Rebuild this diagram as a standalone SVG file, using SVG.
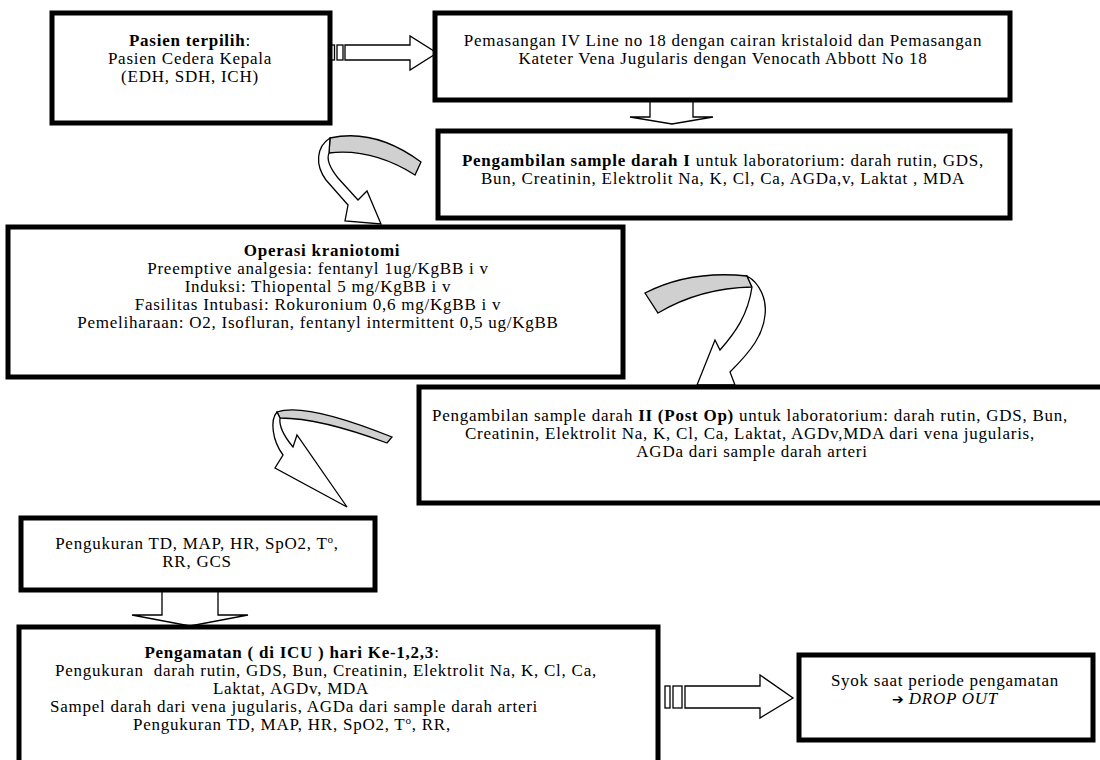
<svg xmlns="http://www.w3.org/2000/svg" width="1100" height="760" viewBox="0 0 1100 760">
<style>
.box{fill:#fff;stroke:#000;stroke-width:5}
.t{font-family:"Liberation Serif","Times New Roman",serif;font-size:17px;letter-spacing:0.75px;fill:#000;text-anchor:middle}
.b{font-weight:bold}
.i{font-style:italic}
.sym{font-family:"DejaVu Sans",sans-serif;font-size:14px;font-weight:bold;letter-spacing:0}
.arr{fill:#fff;stroke:#000;stroke-width:1.3;stroke-linejoin:miter}
.back{fill:#d0d0d0;stroke:#000;stroke-width:1.3}
</style>
<rect width="1100" height="760" fill="#fff"/>
<g id="connectors">
  <!-- striped arrow box1 -> box2 -->
  <rect class="arr" x="331" y="45" width="3.5" height="15"/>
  <rect class="arr" x="337" y="45" width="6" height="15"/>
  <path class="arr" d="M345 45 L410 45 L410 36 L437 53 L410 70 L410 60 L345 60 Z"/>
  <!-- down arrow box2 -> box3 -->
  <path class="arr" d="M650 98 L693 98 L693 117 L713 117 L672 124 L630 117 L650 117 Z"/>
  <!-- curved arrow A -->
  <path class="back" d="M330 138 Q375 128 421 162 L415 175 Q372 148 329 153 Z"/>
  <path class="arr" d="M330 138 C316 147 315 165 326 180 L348 205 L345 221 L381 224 L367 191 L358 200 L338 178 C330 168 326 160 329 153 Z"/>
  <!-- curved arrow B -->
  <path class="back" d="M645 293 Q690 270 747 276 L752 287 Q700 288 658 313 Z"/>
  <path class="arr" d="M747 276 C760 283 767 300 765 315 C763 335 752 350 730 372 L735 385 L697 385 L715 340 L720 350 C735 333 748 315 752 287 Z"/>
  <!-- curved arrow C -->
  <path class="back" d="M277 412 Q305 402 392 437 L387 443 Q320 418 280 418 Z"/>
  <path class="arr" d="M277 412 C270 420 272 440 283 455 L275 468 L347 507 L297 435 L293 447 C283 435 279 425 280 418 Z"/>
  <!-- down arrow box6 -> box7 -->
  <path class="arr" d="M162 585 L218 585 L218 615 L248 615 L190 626 L132 615 L162 615 Z"/>
  <!-- striped arrow box7 -> box8 -->
  <rect class="arr" x="665" y="686" width="5" height="22"/>
  <rect class="arr" x="673" y="686" width="9" height="22"/>
  <path class="arr" d="M685 686 L760 686 L760 675 L793 698 L760 718 L760 708 L685 708 Z"/>
</g>
<g id="n1">
  <rect class="box" x="52" y="13" width="278" height="110"/>
  <text class="t" x="190" y="46"><tspan class="b">Pasien terpilih</tspan>:</text>
  <text class="t" x="190" y="64">Pasien Cedera Kepala</text>
  <text class="t" x="190" y="82">(EDH, SDH, ICH)</text>
</g>
<g id="n2">
  <rect class="box" x="435" y="13" width="575" height="87"/>
  <text class="t" x="723" y="46">Pemasangan IV Line no 18 dengan cairan kristaloid dan Pemasangan</text>
  <text class="t" x="723" y="64">Kateter Vena Jugularis dengan Venocath Abbott No 18</text>
</g>
<g id="n3">
  <rect class="box" x="438" y="131" width="572" height="87"/>
  <text class="t" x="723" y="166"><tspan class="b">Pengambilan sample darah I</tspan> untuk laboratorium: darah rutin, GDS,</text>
  <text class="t" x="723" y="184">Bun, Creatinin, Elektrolit Na, K, Cl, Ca, AGDa,v, Laktat , MDA</text>
</g>
<g id="n4">
  <rect class="box" x="8" y="227" width="615" height="150"/>
  <text class="t b" x="322" y="256">Operasi kraniotomi</text>
  <text class="t" x="318" y="274">Preemptive analgesia: fentanyl 1ug/KgBB i v</text>
  <text class="t" x="318" y="292">Induksi: Thiopental 5 mg/KgBB i v</text>
  <text class="t" x="318" y="310">Fasilitas Intubasi: Rokuronium 0,6 mg/KgBB i v</text>
  <text class="t" x="318" y="328">Pemeliharaan: O2, Isofluran, fentanyl intermittent 0,5 ug/KgBB</text>
</g>
<g id="n5">
  <rect class="box" x="419" y="387" width="700" height="116"/>
  <text class="t" x="750" y="421">Pengambilan sample darah <tspan class="b">II (Post Op)</tspan> untuk laboratorium: darah rutin, GDS, Bun,</text>
  <text class="t" x="750" y="439">Creatinin, Elektrolit Na, K, Cl, Ca, Laktat, AGDv,MDA dari vena jugularis,</text>
  <text class="t" x="752" y="457">AGDa dari sample darah arteri</text>
</g>
<g id="n6">
  <rect class="box" x="21" y="518" width="354" height="72"/>
  <text class="t" x="197" y="549">Pengukuran TD, MAP, HR, SpO2, T<tspan dy="-6" font-size="11">o</tspan><tspan dy="6">,</tspan></text>
  <text class="t" x="197" y="567">RR, GCS</text>
</g>
<g id="n7">
  <rect class="box" x="19" y="627" width="639" height="160"/>
  <text class="t" x="292" y="658"><tspan class="b">Pengamatan ( di ICU ) hari Ke-1,2,3</tspan>:</text>
  <text class="t" x="326" y="676" xml:space="preserve">Pengukuran  darah rutin, GDS, Bun, Creatinin, Elektrolit Na, K, Cl, Ca,</text>
  <text class="t" x="291" y="694">Laktat, AGDv, MDA</text>
  <text class="t" x="294" y="712">Sampel darah dari vena jugularis, AGDa dari sample darah arteri</text>
  <text class="t" x="292" y="730">Pengukuran TD, MAP, HR, SpO2, T<tspan dy="-6" font-size="11">o</tspan><tspan dy="6">, RR,</tspan></text>
</g>
<g id="n8">
  <rect class="box" x="799" y="655" width="294" height="85"/>
  <text class="t" x="945" y="686">Syok saat periode pengamatan</text>
  <text class="t" x="945" y="704"><tspan class="sym">➔</tspan> <tspan class="i">DROP OUT</tspan></text>
</g>
</svg>
